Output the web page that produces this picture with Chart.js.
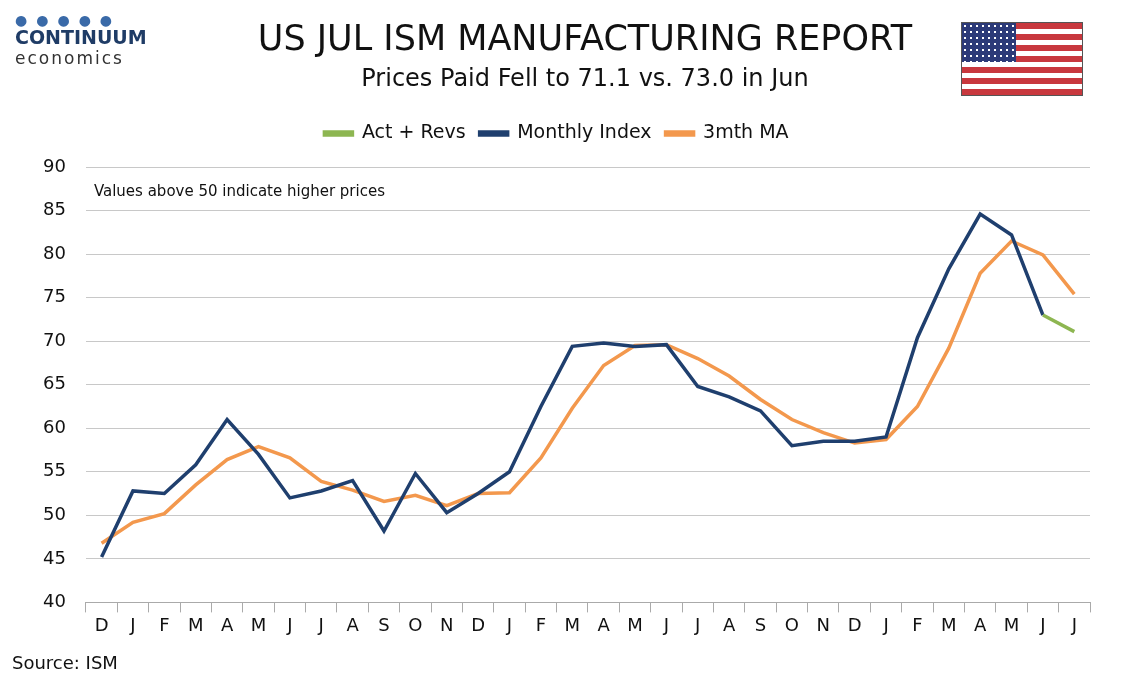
<!DOCTYPE html>
<html><head><meta charset="utf-8">
<script src="https://cdn.jsdelivr.net/npm/chart.js@4"></script>
<style>
body{margin:0;width:1134px;height:680px;background:#fff;font-family:"DejaVu Sans",Verdana,sans-serif;position:relative;overflow:hidden}
#c{position:absolute;left:0;top:0}
.t{position:absolute;left:0;width:1170px;text-align:center;color:#111}
#logo{position:absolute;left:15px;top:12px;color:#1f3c66}
#src{position:absolute;left:12px;top:652px;font-size:18px;color:#111}
#flag{position:absolute;left:961px;top:22px;width:120px;height:72px;border:1px solid #555;background:repeating-linear-gradient(#c8383e 0 5.54px,#fff 5.54px 11.08px)}
#flag div{position:absolute;left:0;top:0;width:54px;height:39px;background:#2c3a78;background-image:radial-gradient(#fff 1.2px,transparent 1.5px);background-size:6px 6px}
</style></head><body>
<canvas id="c" width="1134" height="680"></canvas>
<div class="t" style="top:18px;font-size:35px">US JUL ISM MANUFACTURING REPORT</div>
<div class="t" style="top:64px;font-size:24px">Prices Paid Fell to 71.1 vs. 73.0 in Jun</div>
<div id="logo"><div style="font-size:14px;letter-spacing:9px;color:#3a6aa8">●●●●●</div><div style="font-size:19px;font-weight:bold;margin-top:-2px">CONTINUUM</div><div style="font-size:17px;letter-spacing:2px;color:#333">economics</div></div>
<div id="flag"><div></div></div>
<div id="src">Source: ISM</div>
<script>
var months = ['D','J','F','M','A','M','J','J','A','S','O','N','D','J','F','M','A','M','J','J','A','S','O','N','D','J','F','M','A','M','J','J'];
var monthlyIndex = [45.2,52.8,52.5,55.8,61.0,57.0,52.0,52.8,54.0,48.2,54.8,50.3,52.5,55.0,62.5,69.4,69.8,69.4,69.6,64.8,63.6,62.0,58.0,58.5,58.5,59.0,70.4,78.3,84.6,82.2,73.0,null];
var actRevs = [null,null,null,null,null,null,null,null,null,null,null,null,null,null,null,null,null,null,null,null,null,null,null,null,null,null,null,null,null,null,73.0,71.1];
var ma3 = [46.8,49.2,50.2,53.5,56.4,57.9,56.6,53.9,52.9,51.6,52.3,51.1,52.5,52.6,56.6,62.3,67.2,69.5,69.6,68.0,66.0,63.3,61.0,59.5,58.3,58.7,62.5,69.2,77.8,81.5,79.9,75.4];

var note = {id:'note',afterDraw:function(ch){
  var c=ch.ctx;c.save();c.font='15px "DejaVu Sans"';c.fillStyle='#111';c.textBaseline='middle';
  c.fillText('Values above 50 indicate higher prices',ch.chartArea.left+8,ch.scales.y.getPixelForValue(87.1));c.restore();}};

new Chart(document.getElementById('c'),{
  type:'line',
  data:{labels:months,datasets:[
    {label:'Act + Revs',data:actRevs,borderColor:'#8db651',borderWidth:3.5,pointRadius:0},
    {label:'Monthly Index',data:monthlyIndex,borderColor:'#1f3f6e',borderWidth:3.5,pointRadius:0},
    {label:'3mth MA',data:ma3,borderColor:'#f3984d',borderWidth:3.5,pointRadius:0}
  ]},
  options:{responsive:false,animation:false,
    layout:{padding:{top:110,left:23,right:44,bottom:40}},
    plugins:{legend:{labels:{boxWidth:28,boxHeight:3,color:'#111',font:{size:19,family:'DejaVu Sans'},padding:14},padding:{bottom:0}},tooltip:{enabled:false}},
    scales:{
      x:{offset:true,grid:{display:true,drawOnChartArea:false,offset:true,tickLength:10,color:'#aaa'},border:{color:'#aaa'},
         ticks:{color:'#111',font:{size:18,family:'DejaVu Sans'},maxRotation:0,autoSkip:false}},
      y:{min:40,max:90,afterFit:function(s){},grid:{color:'#c8c8c8',drawTicks:false},border:{display:false},
         ticks:{stepSize:5,color:'#111',padding:20,font:{size:18,family:'DejaVu Sans'}}}
    }},
  plugins:[note,{id:'pushTop',beforeLayout:function(ch){}},{id:'legendGap',beforeInit:function(ch){var f=ch.legend&&ch.legend.fit;},afterInit:function(ch){var l=ch.legend,of=l.fit;l.fit=function(){of.call(this);this.height+=14;};}}]
});
</script></body></html>
